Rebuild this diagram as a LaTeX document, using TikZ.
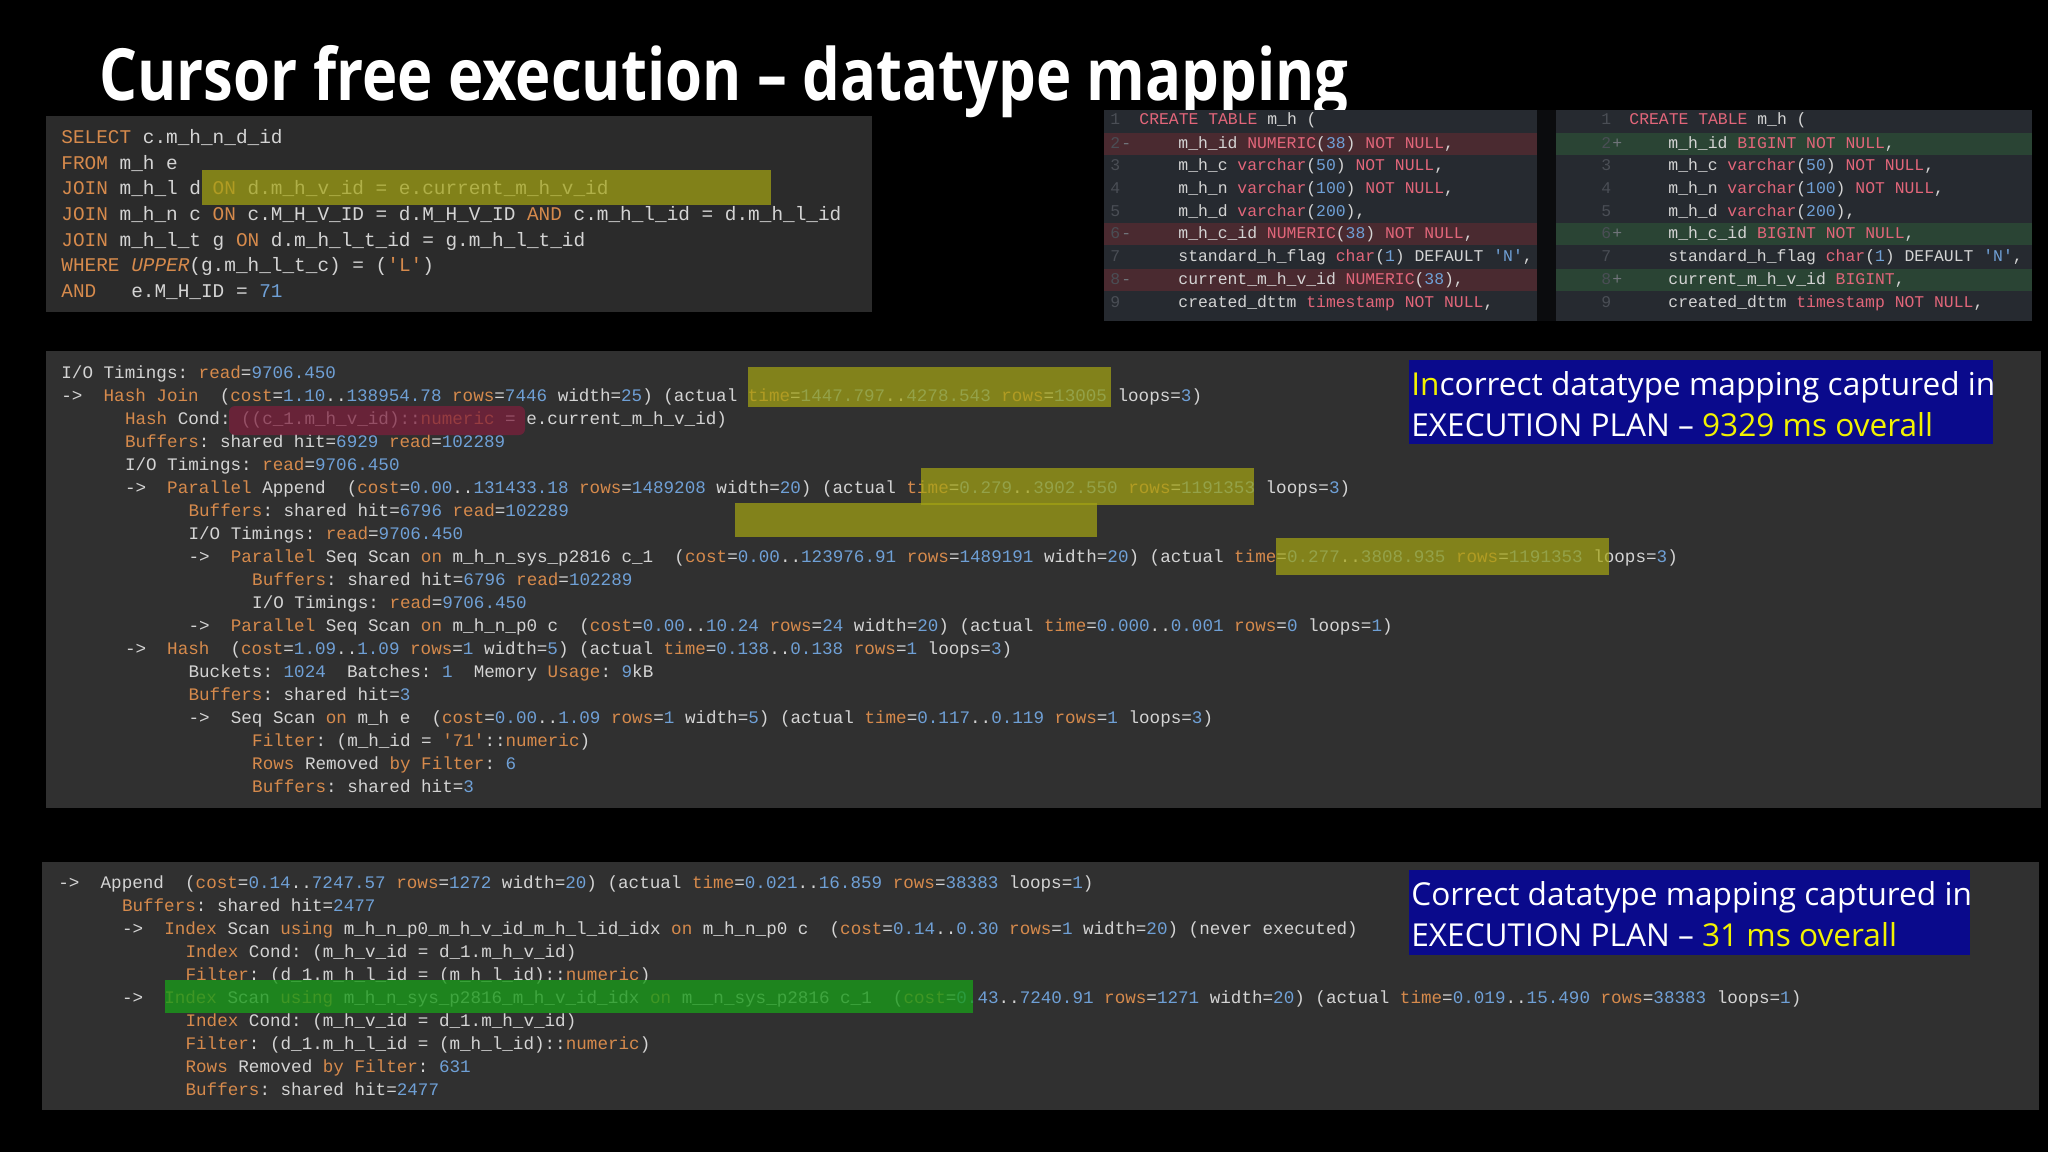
\documentclass[tikz,border=0pt]{standalone}
\usepackage{fontspec}
\setmainfont{Open Sans}
\setmonofont{Liberation Mono}
\definecolor{fg}{HTML}{D4D4D4}
\definecolor{kw}{HTML}{D68A4C}
\definecolor{nm}{HTML}{6FA0D6}
\definecolor{panel}{HTML}{303030}
\definecolor{sqlbg}{HTML}{2B2B2B}
\definecolor{diffbg}{HTML}{262A30}
\definecolor{redrow}{HTML}{4A2A30}
\definecolor{greenrow}{HTML}{2A4434}
\definecolor{dred}{HTML}{E2667A}
\definecolor{hly}{HTML}{A3A313}
\definecolor{hlr}{HTML}{7E1E3C}
\definecolor{hlg}{HTML}{1A9A1A}
\definecolor{navy}{HTML}{0A0A8C}
\definecolor{yel}{HTML}{F2F200}
\definecolor{lnum}{HTML}{4A4E55}
\definecolor{lmark}{HTML}{70747A}
\newcommand{\K}[1]{\textcolor{kw}{#1}}
\newcommand{\N}[1]{\textcolor{nm}{#1}}
\newcommand{\R}[1]{\textcolor{dred}{#1}}
\tikzset{
 pl/.style={anchor=base west,inner sep=0,text=fg,font=\fontsize{8.8}{10}\ttfamily},
 sq/.style={anchor=base west,inner sep=0,text=fg,font=\fontsize{9.7}{11}\ttfamily},
 df/.style={anchor=base west,inner sep=0,text=fg,font=\fontsize{8.2}{10}\ttfamily},
 ln/.style={anchor=base west,inner sep=0,text=lnum,font=\fontsize{8.2}{10}\ttfamily},
 box/.style={fill=navy,anchor=north west,inner sep=0},
 boxt/.style={anchor=base west,inner sep=0,text=white,font=\fontsize{15.8}{18}\selectfont},
 hl/.style={fill opacity=0.72},
}
\begin{document}
\begin{tikzpicture}[x=0.5pt,y=-0.5pt]
\fill[black] (0,0) rectangle (2048,1152);
\useasboundingbox (0,0) rectangle (2048,1152);
% title
\node[anchor=base west,inner sep=0,text=white,xscale=0.83,font=\fontsize{36}{40}\selectfont\bfseries] (title) at (99,100) {Cursor free execution -- datatype mapping};
% SQL panel
\fill[sqlbg] (46,116) rectangle (872,312);
\node[sq] (s1) at (61,143) {\K{SELECT} c.m\_h\_n\_d\_id};
\node[sq] (s2) at (61,169) {\K{FROM} m\_h e};
\node[sq] (s3) at (61,194) {\K{JOIN} m\_h\_l d \K{ON} d.m\_h\_v\_id = e.current\_m\_h\_v\_id};
\node[sq] (s4) at (61,220) {\K{JOIN} m\_h\_n c \K{ON} c.M\_H\_V\_ID = d.M\_H\_V\_ID \K{AND} c.m\_h\_l\_id = d.m\_h\_l\_id};
\node[sq] (s5) at (61,246) {\K{JOIN} m\_h\_l\_t g \K{ON} d.m\_h\_l\_t\_id = g.m\_h\_l\_t\_id};
\node[sq] (s6) at (61,271) {\K{WHERE} \K{\itshape UPPER}(g.m\_h\_l\_t\_c) = (\K{'L'})};
\node[sq] (s7) at (61,297) {\K{AND}~~~e.M\_H\_ID = \N{71}};
\fill[hly,hl] (202,170) rectangle (771,205);
% diff panel
\fill[diffbg] (1104,110) rectangle (2032,321);
\fill[black!70!diffbg] (1537,110) rectangle (1556,321);
\foreach \yy in {144,234,280}{
 \fill[redrow] (1104,\yy-11) rectangle (1537,\yy+11);
 \fill[greenrow] (1556,\yy-11) rectangle (2032,\yy+11);}
\foreach \n/\yy in {1/120,2/144,3/166,4/189,5/212,6/234,7/257,8/280,9/303}{
 \node[ln] at (1110,\yy+4) {\n}; \node[ln] at (1601,\yy+4) {\n};}
\foreach \yy in {144,234,280}{
 \node[ln,text=lmark] at (1121,\yy+4) {-}; \node[ln,text=lmark] at (1612,\yy+4) {+};}
\node[df] (l1) at (1139,124) {\R{CREATE TABLE} m\_h (};
\node[df] (l2) at (1178,148) {m\_h\_id \R{NUMERIC}(\N{38}) \R{NOT NULL},};
\node[df] (l3) at (1178,170) {m\_h\_c \R{varchar}(\N{50}) \R{NOT NULL},};
\node[df] (l4) at (1178,193) {m\_h\_n \R{varchar}(\N{100}) \R{NOT NULL},};
\node[df] (l5) at (1178,216) {m\_h\_d \R{varchar}(\N{200}),};
\node[df] (l6) at (1178,238) {m\_h\_c\_id \R{NUMERIC}(\N{38}) \R{NOT NULL},};
\node[df] (l7) at (1178,261) {standard\_h\_flag \R{char}(\N{1}) DEFAULT \N{'N'},};
\node[df] (l8) at (1178,284) {current\_m\_h\_v\_id \R{NUMERIC}(\N{38}),};
\node[df] (l9) at (1178,307) {created\_dttm \R{timestamp} \R{NOT NULL},};
\node[df] (r1) at (1629,124) {\R{CREATE TABLE} m\_h (};
\node[df] (r2) at (1668,148) {m\_h\_id \R{BIGINT} \R{NOT NULL},};
\node[df] (r3) at (1668,170) {m\_h\_c \R{varchar}(\N{50}) \R{NOT NULL},};
\node[df] (r4) at (1668,193) {m\_h\_n \R{varchar}(\N{100}) \R{NOT NULL},};
\node[df] (r5) at (1668,216) {m\_h\_d \R{varchar}(\N{200}),};
\node[df] (r6) at (1668,238) {m\_h\_c\_id \R{BIGINT} \R{NOT NULL},};
\node[df] (r7) at (1668,261) {standard\_h\_flag \R{char}(\N{1}) DEFAULT \N{'N'},};
\node[df] (r8) at (1668,284) {current\_m\_h\_v\_id \R{BIGINT},};
\node[df] (r9) at (1668,307) {created\_dttm \R{timestamp} \R{NOT NULL},};
% plan panel 1
\fill[panel] (46,351) rectangle (2041,808);
\def\cw{10.6}
\node[pl] (p1) at (61,378) {I/O Timings: \K{read}=\N{9706.450}};
\node[pl] (p2) at (61,401) {->~~\K{Hash Join}~~(\K{cost}=\N{1.10}..\N{138954.78} \K{rows}=\N{7446} width=\N{25}) (actual \K{time}=\N{1447.797}..\N{4278.543} \K{rows}=\N{13005} loops=\N{3})};
\node[pl] (p3) at (61+6*\cw,424) {\K{Hash} Cond: ((c\_1.m\_h\_v\_id)::\K{numeric} = e.current\_m\_h\_v\_id)};
\node[pl] (p4) at (61+6*\cw,447) {\K{Buffers}: shared hit=\N{6929} \K{read}=\N{102289}};
\node[pl] (p5) at (61+6*\cw,470) {I/O Timings: \K{read}=\N{9706.450}};
\node[pl] (p6) at (61+6*\cw,493) {->~~\K{Parallel} Append~~(\K{cost}=\N{0.00}..\N{131433.18} \K{rows}=\N{1489208} width=\N{20}) (actual \K{time}=\N{0.279}..\N{3902.550} \K{rows}=\N{1191353} loops=\N{3})};
\node[pl] (p7) at (61+12*\cw,516) {\K{Buffers}: shared hit=\N{6796} \K{read}=\N{102289}};
\node[pl] (p8) at (61+12*\cw,539) {I/O Timings: \K{read}=\N{9706.450}};
\node[pl] (p9) at (61+12*\cw,562) {->~~\K{Parallel} Seq Scan \K{on} m\_h\_n\_sys\_p2816 c\_1~~(\K{cost}=\N{0.00}..\N{123976.91} \K{rows}=\N{1489191} width=\N{20}) (actual \K{time}=\N{0.277}..\N{3808.935} \K{rows}=\N{1191353} loops=\N{3})};
\node[pl] (p10) at (61+18*\cw,585) {\K{Buffers}: shared hit=\N{6796} \K{read}=\N{102289}};
\node[pl] (p11) at (61+18*\cw,608) {I/O Timings: \K{read}=\N{9706.450}};
\node[pl] (p12) at (61+12*\cw,631) {->~~\K{Parallel} Seq Scan \K{on} m\_h\_n\_p0 c~~(\K{cost}=\N{0.00}..\N{10.24} \K{rows}=\N{24} width=\N{20}) (actual \K{time}=\N{0.000}..\N{0.001} \K{rows}=\N{0} loops=\N{1})};
\node[pl] (p13) at (61+6*\cw,654) {->~~\K{Hash}~~(\K{cost}=\N{1.09}..\N{1.09} \K{rows}=\N{1} width=\N{5}) (actual \K{time}=\N{0.138}..\N{0.138} \K{rows}=\N{1} loops=\N{3})};
\node[pl] (p14) at (61+12*\cw,677) {Buckets: \N{1024}~~Batches: \N{1}~~Memory \K{Usage}: \N{9}kB};
\node[pl] (p15) at (61+12*\cw,700) {\K{Buffers}: shared hit=\N{3}};
\node[pl] (p16) at (61+12*\cw,723) {->~~Seq Scan \K{on} m\_h e~~(\K{cost}=\N{0.00}..\N{1.09} \K{rows}=\N{1} width=\N{5}) (actual \K{time}=\N{0.117}..\N{0.119} \K{rows}=\N{1} loops=\N{3})};
\node[pl] (p17) at (61+18*\cw,746) {\K{Filter}: (m\_h\_id = \K{'71'}::\K{numeric})};
\node[pl] (p18) at (61+18*\cw,769) {\K{Rows} Removed \K{by} \K{Filter}: \N{6}};
\node[pl] (p19) at (61+18*\cw,792) {\K{Buffers}: shared hit=\N{3}};
\fill[hly,hl] (748,367) rectangle (1111,407);
\fill[hlr,hl,rounded corners=3] (229,406) rectangle (525,435);
\fill[hly,hl] (921,468) rectangle (1254,505);
\fill[hly,hl] (735,503) rectangle (1097,537);
\fill[hly,hl] (1276,538) rectangle (1609,575);
\node[box,minimum width=292pt,minimum height=42pt] (b1) at (1409,360) {};
\node[boxt] (b1a) at (1411,395) {\textcolor{yel}{In}correct datatype mapping captured in};
\node[boxt] (b1b) at (1411,436) {EXECUTION PLAN -- \textcolor{yel}{9329 ms overall}};
% plan panel 2
\fill[panel] (42,862) rectangle (2039,1110);
\node[pl] (q1) at (58,888) {->~~Append~~(\K{cost}=\N{0.14}..\N{7247.57} \K{rows}=\N{1272} width=\N{20}) (actual \K{time}=\N{0.021}..\N{16.859} \K{rows}=\N{38383} loops=\N{1})};
\node[pl] (q2) at (58+6*\cw,911) {\K{Buffers}: shared hit=\N{2477}};
\node[pl] (q3) at (58+6*\cw,934) {->~~\K{Index} Scan \K{using} m\_h\_n\_p0\_m\_h\_v\_id\_m\_h\_l\_id\_idx \K{on} m\_h\_n\_p0 c~~(\K{cost}=\N{0.14}..\N{0.30} \K{rows}=\N{1} width=\N{20}) (never executed)};
\node[pl] (q4) at (58+12*\cw,957) {\K{Index} Cond: (m\_h\_v\_id = d\_1.m\_h\_v\_id)};
\node[pl] (q5) at (58+12*\cw,980) {\K{Filter}: (d\_1.m\_h\_l\_id = (m\_h\_l\_id)::\K{numeric})};
\node[pl] (q6) at (58+6*\cw,1003) {->~~\K{Index} Scan \K{using} m\_h\_n\_sys\_p2816\_m\_h\_v\_id\_idx \K{on} m\_\_n\_sys\_p2816 c\_1~~(\K{cost}=\N{0.43}..\N{7240.91} \K{rows}=\N{1271} width=\N{20}) (actual \K{time}=\N{0.019}..\N{15.490} \K{rows}=\N{38383} loops=\N{1})};
\node[pl] (q7) at (58+12*\cw,1026) {\K{Index} Cond: (m\_h\_v\_id = d\_1.m\_h\_v\_id)};
\node[pl] (q8) at (58+12*\cw,1049) {\K{Filter}: (d\_1.m\_h\_l\_id = (m\_h\_l\_id)::\K{numeric})};
\node[pl] (q9) at (58+12*\cw,1072) {\K{Rows} Removed \K{by} \K{Filter}: \N{631}};
\node[pl] (q10) at (58+12*\cw,1095) {\K{Buffers}: shared hit=\N{2477}};
\fill[hlg,fill opacity=0.8] (165,980) rectangle (973,1013);
\node[box,minimum width=280.5pt,minimum height=42.5pt] (b2) at (1409,870) {};
\node[boxt] (b2a) at (1411,905) {Correct datatype mapping captured in};
\node[boxt] (b2b) at (1411,946) {EXECUTION PLAN -- \textcolor{yel}{31 ms overall}};
\end{tikzpicture}
\end{document}
